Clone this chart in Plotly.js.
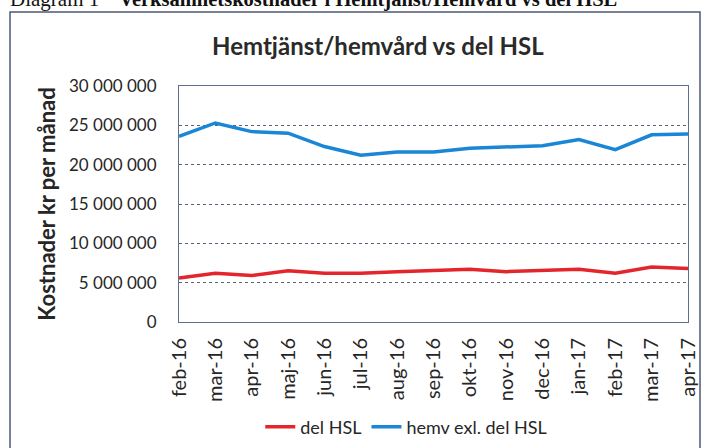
<!DOCTYPE html>
<html>
<head>
<meta charset="utf-8">
<script src="https://cdn.plot.ly/plotly-3.0.1.min.js"></script>
<style>html,body{margin:0;padding:0;background:#fff;}#chart{width:709px;height:448px;}</style>
</head>
<body>
<div id="chart"></div>
<script>
const months = ["feb-16","mar-16","apr-16","maj-16","jun-16","jul-16","aug-16","sep-16","okt-16","nov-16","dec-16","jan-17","feb-17","mar-17","apr-17"];
const delHSL = [5600000,6200000,5900000,6500000,6200000,6200000,6400000,6500000,6700000,6400000,6500000,6700000,6200000,7000000,6800000];
const hemvExlHSL = [23600000,25300000,24200000,24000000,22300000,21200000,21600000,21600000,22100000,22300000,22400000,23200000,21900000,23800000,23900000];
const yTicks = [0,5000000,10000000,15000000,20000000,25000000,30000000];

const FONT = "Lato, 'Open Sans', sans-serif";
const SERIF = "'Liberation Serif', 'DejaVu Serif', serif";
const TXT = "#262626";

const traces = [
  {x: months, y: delHSL, name: "del HSL", type: "scatter", mode: "lines",
   line: {color: "#e3262b", width: 3.5}},
  {x: months, y: hemvExlHSL, name: "hemv exl. del HSL", type: "scatter", mode: "lines",
   line: {color: "#1a86d6", width: 3.5}}
];

const layout = {
  width: 709, height: 448,
  margin: {l: 179, r: 21, t: 86, b: 126},
  paper_bgcolor: "#fff", plot_bgcolor: "#fff",
  separators: ". ",
  font: {family: FONT, color: TXT},
  title: {text: "<b>Hemtjänst/hemvård vs del HSL</b>", x: 0.533, xanchor: "center", y: 0.895, yanchor: "middle",
          font: {size: 24, family: FONT, color: "#2a2a2a"}},
  showlegend: true,
  legend: {orientation: "h", xref: "container", yref: "container", x: 0.573, xanchor: "center", y: 0.047, yanchor: "middle",
           font: {size: 18, family: FONT, color: TXT}, bgcolor: "rgba(0,0,0,0)"},
  xaxis: {type: "category", range: [0, 14], tickangle: -90, ticks: "", ticklabelstandoff: 7,
          automargin: false,
          tickfont: {size: 20, family: FONT, color: TXT},
          showgrid: false, zeroline: false, showline: true, linecolor: "#5f6f8f", linewidth: 1, mirror: true},
  yaxis: {range: [0, 30000000], tickvals: yTicks, tickformat: ",d", ticks: "", ticklabelstandoff: 18,
          automargin: false,
          tickfont: {size: 17, family: FONT, color: TXT},
          showgrid: true, gridcolor: "#58637a", gridwidth: 1, griddash: "dot",
          zeroline: false, showline: true, linecolor: "#5f6f8f", linewidth: 1, mirror: true,
          title: {text: "<b>Kostnader kr per månad</b>", standoff: 7, font: {size: 22, family: FONT, color: TXT}}},
  shapes: [
    {type: "rect", xref: "paper", yref: "paper", x0: -0.332, x1: 1.0236, y0: -0.56, y1: 1.3136,
     line: {color: "#4c5876", width: 1.5}, fillcolor: "rgba(0,0,0,0)", layer: "below"}
  ],
  annotations: [
    {text: "Diagram 1", xref: "paper", yref: "paper",
     x: -0.336, xanchor: "left", y: 1.368, yanchor: "middle", showarrow: false,
     font: {size: 21, family: SERIF, color: "#111"}},
    {text: "<b>Verksamhetskostnader i Hemtjänst/Hemvård vs del HSL</b>", xref: "paper", yref: "paper",
     x: -0.121, xanchor: "left", y: 1.368, yanchor: "middle", showarrow: false,
     font: {size: 20.5, family: SERIF, color: "#111"}}
  ]
};

Plotly.newPlot("chart", traces, layout, {displayModeBar: false, staticPlot: true});
</script>
</body>
</html>
